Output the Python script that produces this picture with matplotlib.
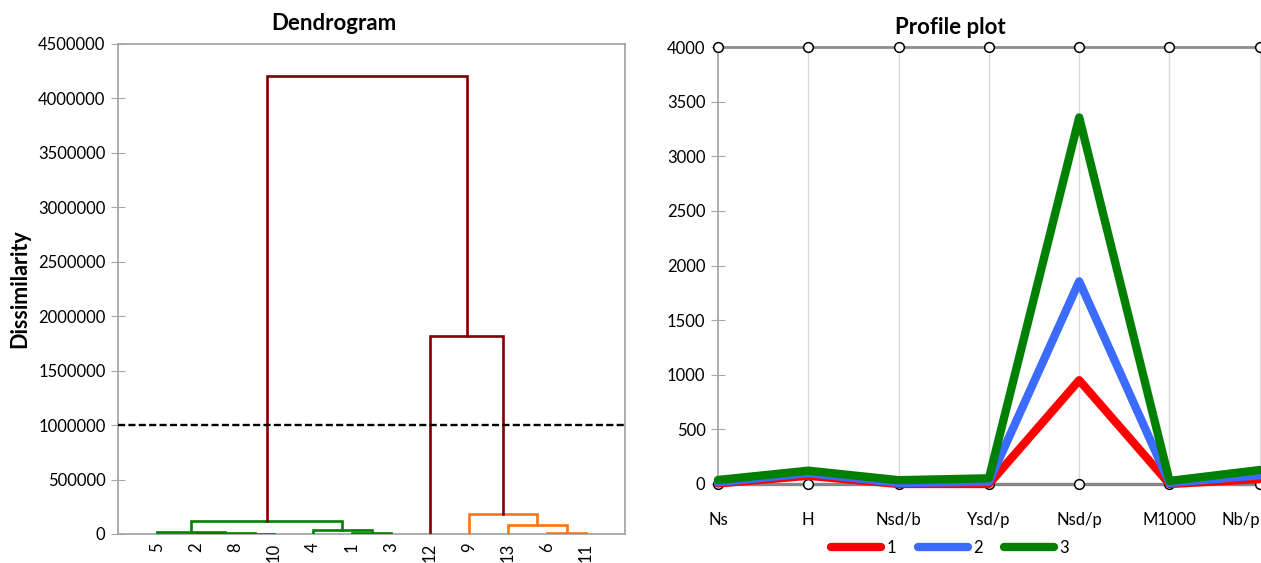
import numpy as np
import matplotlib
matplotlib.use("Agg")
import matplotlib.pyplot as plt
from matplotlib.ticker import FuncFormatter

plt.rcParams['font.family'] = ['Lato', 'DejaVu Sans']

# dendrogram data (leaf order as drawn, merges like a linkage table)
leaf_labels = ['5', '2', '8', '10', '4', '1', '3', '12', '9', '13', '6', '11']
leaf_group = [1, 1, 1, 1, 1, 1, 1, 2, 3, 3, 3, 3]
merge_a = [2, 1, 0, 5, 4, 14, 10, 9, 8, 7, 17]
merge_b = [3, 12, 13, 6, 15, 16, 11, 18, 19, 20, 21]
merge_h = [3000, 9000, 15000, 9000, 35000, 120000, 12000, 82000, 185000, 1818000, 4206000]
cut_level = 1000000

# profile plot data
variables = ['Ns', 'H', 'Nsd/b', 'Ysd/p', 'Nsd/p', 'M1000', 'Nb/p']
class1 = [5, 75, 0, 0, 950, 0, 45]
class2 = [15, 100, 10, 20, 1855, 10, 80]
class3 = [37, 122, 35, 52, 3355, 28, 128]

W, H = 1261, 563
fig = plt.figure(figsize=(W / 100, H / 100), dpi=100)

gray = '#A6A6A6'
group_colors = {1: '#008000', 3: '#FF7410'}
top_color = '#7F0000'

# ---------- dendrogram ----------
ax = fig.add_axes([118 / W, 1 - 534 / H, (625 - 118) / W, (534 - 44) / H])
n = len(leaf_labels)
xs = list(np.arange(1, n + 1, dtype=float))
hs = [0.0] * n
grp = list(leaf_group)
for a, b, h in zip(merge_a, merge_b, merge_h):
    g = grp[a] if grp[a] == grp[b] else None
    c = group_colors.get(g, top_color) if h < cut_level else top_color
    ax.plot([xs[a], xs[a], xs[b], xs[b]], [hs[a], h, h, hs[b]], color=c, lw=1.9,
            solid_joinstyle='miter', zorder=3)
    xs.append((xs[a] + xs[b]) / 2)
    hs.append(h)
    grp.append(g)

ax.axhline(cut_level, color='black', ls='--', lw=1.7, dashes=(3, 1.4), zorder=4)
ax.set_xlim(0, n + 1)
ax.set_ylim(0, 4500000)
ax.set_yticks(np.arange(0, 4500001, 500000))
ax.yaxis.set_major_formatter(FuncFormatter(lambda v, p: '%d' % v))
ax.set_xticks(np.arange(1, n + 1))
ax.set_xticklabels(leaf_labels, rotation=90)
ax.tick_params(axis='x', length=0, pad=6, labelsize=12)
ax.tick_params(axis='y', direction='inout', length=10, color=gray, labelsize=12, pad=4)
for s in ax.spines.values():
    s.set_color(gray)
    s.set_linewidth(1.3)
ax.set_ylabel('Dissimilarity', fontsize=15.5, fontweight='bold', labelpad=6)
fig.text(334 / W, 1 - 24 / H, 'Dendrogram', ha='center', va='center',
         fontsize=16, fontweight='bold')

# ---------- profile plot ----------
step = 90.3
ax2 = fig.add_axes([718 / W, 1 - 484 / H, 6.6 * step / W, (484 - 47) / H])
xp = np.arange(len(variables))
for xv in xp[1:]:
    ax2.axvline(xv, color='#D9D9D9', lw=1, zorder=1)
ax2.axhline(4000, color='#8C8C8C', lw=2, zorder=2, clip_on=False)
ax2.axhline(0, color='#868686', lw=2.4, zorder=2, clip_on=False)
ax2.plot(xp, [0] * len(xp), 'o', ms=7, mfc='white', mec='black', mew=1.1,
         zorder=3, clip_on=False)
ax2.plot(xp, [4000] * len(xp), 'o', ms=7, mfc='white', mec='black', mew=1.1,
         zorder=3, clip_on=False)
for vals, col, lab in [(class1, '#FF0000', '1'), (class2, '#3B6CFF', '2'),
                       (class3, '#008000', '3')]:
    ax2.plot(xp, vals, color=col, lw=6, label=lab, solid_capstyle='round',
             solid_joinstyle='round', zorder=4, clip_on=False)
ax2.set_xlim(0, 6.6)
ax2.set_ylim(0, 4000)
ax2.set_yticks(np.arange(0, 4001, 500))
ax2.set_xticks(xp)
ax2.set_xticklabels(variables)
ax2.get_xticklabels()[-1].set_horizontalalignment('right')
ax2.tick_params(axis='x', length=0, pad=20, labelsize=12)
ax2.tick_params(axis='y', direction='inout', length=10, color=gray, labelsize=12, pad=4)
for k in ['top', 'right', 'bottom']:
    ax2.spines[k].set_visible(False)
ax2.spines['left'].set_color(gray)
ax2.spines['left'].set_linewidth(1.3)
fig.text(950 / W, 1 - 27 / H, 'Profile plot', ha='center', va='center',
         fontsize=16, fontweight='bold')
fig.legend(*ax2.get_legend_handles_labels(), loc='center', ncol=3, frameon=False,
           bbox_to_anchor=(950 / W, 1 - 548 / H), fontsize=12, handlelength=3.0,
           handletextpad=0.3, columnspacing=1.3)

fig.savefig('out.png', dpi=100)
